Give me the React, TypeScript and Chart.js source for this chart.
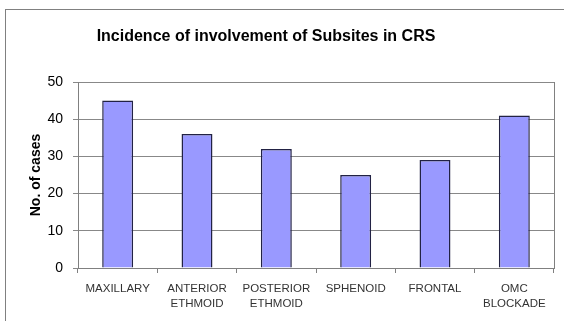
import React, { useEffect, useRef } from "react";
import { Chart, registerables } from "chart.js";

Chart.register(...registerables);

const TITLE = "Incidence of involvement of Subsites in CRS";
const Y_TITLE = "No. of cases";
const categories: string[][] = [
  ["MAXILLARY"],
  ["ANTERIOR", "ETHMOID"],
  ["POSTERIOR", "ETHMOID"],
  ["SPHENOID"],
  ["FRONTAL"],
  ["OMC", "BLOCKADE"],
];
const cases: number[] = [45, 36, 32, 25, 29, 41];

const titlePlugin = {
  id: "customTitle",
  afterDraw(chart: any) {
    const ctx = chart.ctx;
    ctx.save();
    ctx.font = "bold 16px 'Liberation Sans', Arial, sans-serif";
    ctx.fillStyle = "#000";
    ctx.textAlign = "center";
    ctx.textBaseline = "middle";
    ctx.fillText(TITLE, 266, 37);
    ctx.restore();
  },
};

export default function App() {
  const ref = useRef<HTMLCanvasElement>(null);
  useEffect(() => {
    if (!ref.current) return;
    const chart = new Chart(ref.current, {
      type: "bar",
      data: {
        labels: categories,
        datasets: [
          {
            data: cases,
            backgroundColor: "#9999FF",
            borderColor: "#222244",
            borderWidth: 1.5,
            categoryPercentage: 1,
            barPercentage: 0.39,
          },
        ],
      },
      plugins: [titlePlugin],
      options: {
        responsive: false,
        animation: false,
        layout: { padding: { left: 28, top: 82, right: 10, bottom: 0 } },
        plugins: { legend: { display: false }, tooltip: { enabled: false }, title: { display: false } },
        scales: {
          x: {
            afterFit: (s: any) => {
              s.height = 53;
            },
            grid: {
              offset: true,
              drawOnChartArea: false,
              drawTicks: true,
              tickLength: 5,
              color: "#808080",
            },
            border: { display: true, color: "#808080" },
            ticks: {
              color: "#333",
              padding: 8,
              maxRotation: 0,
              autoSkip: false,
              font: { family: "'Liberation Sans', Arial, sans-serif", size: 11.5, lineHeight: 1.3 },
            },
          },
          y: {
            min: 0,
            max: 50,
            afterFit: (s: any) => {
              s.width = 50;
            },
            ticks: {
              stepSize: 10,
              color: "#000",
              padding: 10,
              font: { family: "'Liberation Sans', Arial, sans-serif", size: 14 },
            },
            grid: { color: "#888", tickLength: 5 },
            border: { display: true, color: "#808080" },
            title: {
              display: true,
              text: Y_TITLE,
              color: "#000",
              padding: { top: 0, bottom: 0 },
              font: { family: "'Liberation Sans', Arial, sans-serif", size: 14, weight: "bold" },
            },
          },
          y2: {
            position: "right",
            min: 0,
            max: 50,
            afterFit: (s: any) => {
              s.width = 0;
            },
            ticks: { display: false },
            grid: { display: false },
            border: { display: true, color: "#808080" },
          },
        },
      },
    });
    return () => chart.destroy();
  }, []);
  return (
    <div style={{ position: "absolute", left: 0, top: 0, width: 564, height: 321, background: "#fff", overflow: "hidden" }}>
      <div
        style={{
          position: "absolute",
          left: 5,
          top: 9,
          width: 600,
          height: 400,
          borderLeft: "1px solid #808080",
          borderTop: "1px solid #808080",
        }}
      />
      <canvas ref={ref} width={564} height={321} style={{ position: "absolute", left: 0, top: 0, width: 564, height: 321 }} />
    </div>
  );
}
